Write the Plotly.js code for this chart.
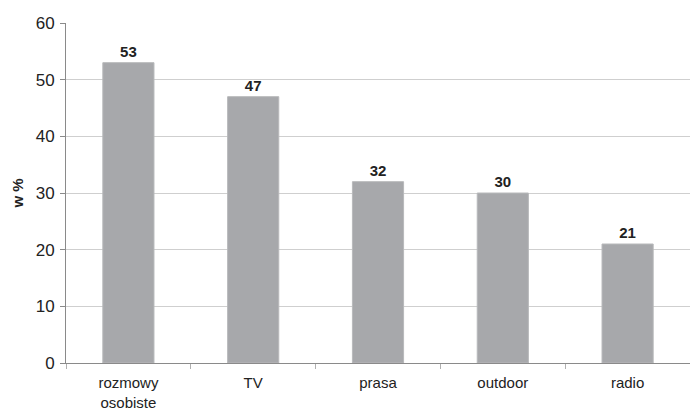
<!DOCTYPE html>
<html>
<head>
<meta charset="utf-8">
<script src="https://cdn.plot.ly/plotly-3.0.1.min.js"></script>
<style>
  html, body { margin: 0; padding: 0; background: #fff; }
  #chart { width: 690px; height: 412px; }
</style>
</head>
<body>
<div id="chart"></div>
<script>
// Media channels and their share, in percent
const categories = ['rozmowy<br>osobiste', 'TV', 'prasa', 'outdoor', 'radio'];
const values = [53, 47, 32, 30, 21];
const yTicks = [0, 10, 20, 30, 40, 50, 60];

const trace = {
  type: 'bar',
  x: categories,
  y: values,
  text: values.map(String),
  textposition: 'outside',
  textfont: { family: 'Liberation Sans, Arial, sans-serif', size: 15, color: '#222' },
  texttemplate: '<b>%{text}</b>',
  cliponaxis: false,
  marker: { color: '#a7a8ab', line: { color: '#b8b9bb', width: 1 } },
  width: 0.41,
  hoverinfo: 'none'
};

const layout = {
  width: 690,
  height: 412,
  margin: { l: 66, r: 0, t: 23, b: 49 },
  paper_bgcolor: '#fff',
  plot_bgcolor: '#fff',
  showlegend: false,
  font: { family: 'Liberation Sans, Arial, sans-serif', color: '#222' },
  xaxis: {
    type: 'category',
    showline: true,
    linecolor: '#8a8a8a',
    linewidth: 1,
    ticks: 'outside',
    tickson: 'boundaries',
    ticklen: 5,
    tickcolor: '#b0b0b0',
    tickfont: { size: 15, color: '#222' },
    ticklabelstandoff: 6,
    showgrid: false,
    zeroline: false,
    fixedrange: true
  },
  yaxis: {
    range: [0, 60],
    tickvals: yTicks,
    ticktext: yTicks.map(String),
    showline: true,
    linecolor: '#8a8a8a',
    linewidth: 1,
    ticks: 'outside',
    ticklen: 5,
    tickcolor: '#8a8a8a',
    tickfont: { size: 17, color: '#222' },
    ticklabelstandoff: 2,
    showgrid: true,
    gridcolor: '#cfcfcf',
    gridwidth: 1,
    zeroline: false,
    title: { text: '<b>w %</b>', font: { size: 15, color: '#222' }, standoff: 8 },
    fixedrange: true
  }
};

Plotly.newPlot('chart', [trace], layout, { displayModeBar: false, staticPlot: true });
</script>
</body>
</html>
